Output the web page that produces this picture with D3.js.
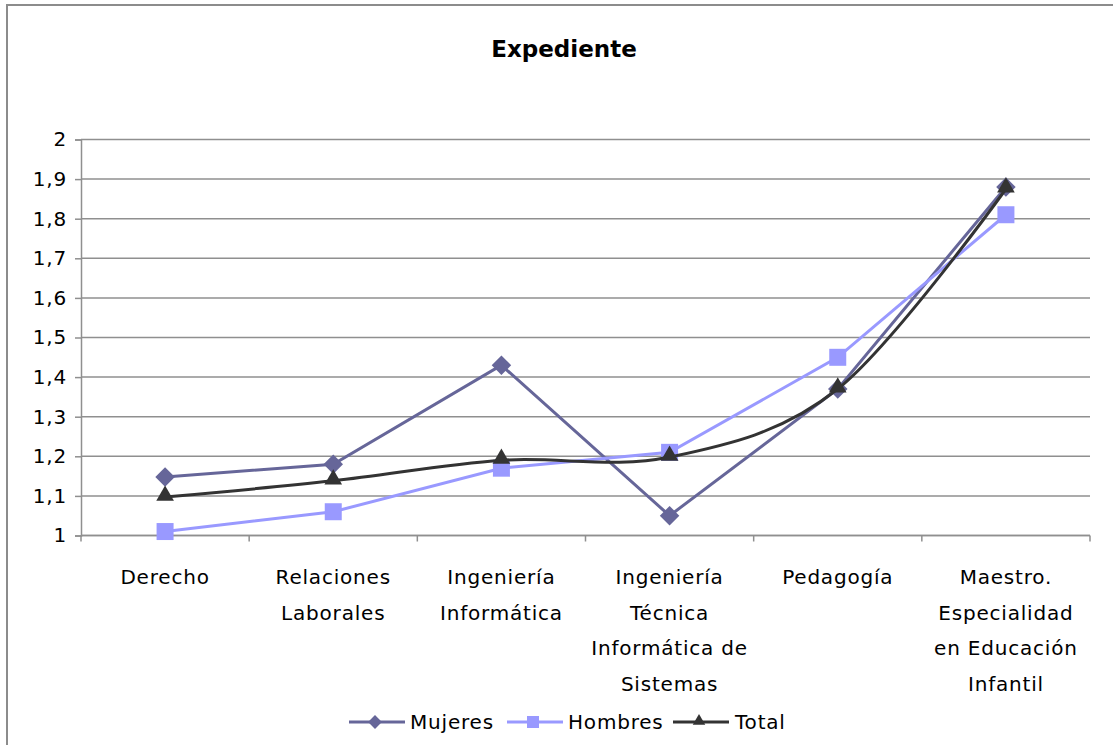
<!DOCTYPE html>
<html>
<head>
<meta charset="utf-8">
<script src="https://cdn.jsdelivr.net/npm/d3@7"></script>
<style>
  html, body { margin: 0; padding: 0; background: #fff; }
  svg { display: block; font-family: "DejaVu Sans", Verdana, sans-serif; }
</style>
</head>
<body>
<div id="chart"></div>
<script>
// Datos del gráfico
const categorias = [
    ['Derecho'],
    ['Relaciones', 'Laborales'],
    ['Ingeniería', 'Informática'],
    ['Ingeniería', 'Técnica', 'Informática de', 'Sistemas'],
    ['Pedagogía'],
    ['Maestro.', 'Especialidad', 'en Educación', 'Infantil']
];
const mujeres = [1.148, 1.18, 1.43, 1.05, 1.37, 1.88];
const hombres = [1.01, 1.06, 1.17, 1.21, 1.45, 1.81];
const total = [1.097, 1.138, 1.19, 1.198, 1.37, 1.875];
const yTicks = [1, 1.1, 1.2, 1.3, 1.4, 1.5, 1.6, 1.7, 1.8, 1.9, 2];

// Diamante = cuadrado girado 45 grados
const series = [
    { name: 'Mujeres', values: mujeres, color: '#666699', symbol: d3.symbolSquare, rotate: 45, size: 190, dy: 0, curve: d3.curveLinear },
    { name: 'Hombres', values: hombres, color: '#9999ff', symbol: d3.symbolSquare, rotate: 0, size: 289, dy: 0, curve: d3.curveLinear },
    { name: 'Total', values: total, color: '#333333', symbol: d3.symbolTriangle, rotate: 0, size: 135, dy: -1.5, curve: d3.curveCatmullRom.alpha(0) }
];

const width = 1113, height = 745;
const plot = { left: 81, right: 1090, top: 139.5, bottom: 535.5 };
const fontSize = 20, spacing = 0.8;

const svg = d3.select('#chart').append('svg')
    .attr('width', width)
    .attr('height', height);

// Marco del gráfico
svg.append('rect')
    .attr('x', 7).attr('y', 5)
    .attr('width', width + 20).attr('height', height + 20)
    .attr('fill', 'none')
    .attr('stroke', '#8c8c8c')
    .attr('stroke-width', 2);

// Título
svg.append('text')
    .attr('x', 564).attr('y', 57)
    .attr('text-anchor', 'middle')
    .attr('font-size', 23)
    .attr('font-weight', 'bold')
    .attr('fill', '#000')
    .text('Expediente');

const x = d3.scaleBand()
    .domain(d3.range(categorias.length))
    .range([plot.left, plot.right]);

const y = d3.scaleLinear()
    .domain([1, 2])
    .range([plot.bottom, plot.top]);

// Líneas de cuadrícula
svg.append('g')
    .selectAll('line')
    .data(yTicks)
    .join('line')
    .attr('x1', plot.left).attr('x2', plot.right)
    .attr('y1', d => y(d)).attr('y2', d => y(d))
    .attr('stroke', '#8f8f8f')
    .attr('stroke-width', 1.5);

// Eje Y
const yAxis = svg.append('g')
    .attr('transform', `translate(${plot.left},0)`)
    .call(d3.axisLeft(y)
        .tickValues(yTicks)
        .tickSize(6)
        .tickPadding(8)
        .tickFormat(d => d3.format('.1~f')(d).replace('.', ',')));
yAxis.select('.domain').attr('stroke', '#8f8f8f').attr('stroke-width', 1.5);
yAxis.selectAll('.tick line').attr('stroke', '#8f8f8f').attr('stroke-width', 1.5);
yAxis.selectAll('.tick text')
    .attr('font-size', fontSize)
    .attr('letter-spacing', spacing)
    .attr('font-family', '"DejaVu Sans", Verdana, sans-serif')
    .attr('fill', '#000');

// Eje X
const xEdges = d3.range(categorias.length + 1).map(i => plot.left + i * x.step());
const xAxis = svg.append('g');
xAxis.append('line')
    .attr('x1', plot.left).attr('x2', plot.right)
    .attr('y1', plot.bottom).attr('y2', plot.bottom)
    .attr('stroke', '#8f8f8f')
    .attr('stroke-width', 1.5);
xAxis.selectAll('line.tick')
    .data(xEdges)
    .join('line')
    .attr('class', 'tick')
    .attr('x1', d => d).attr('x2', d => d)
    .attr('y1', plot.bottom).attr('y2', plot.bottom + 6)
    .attr('stroke', '#8f8f8f')
    .attr('stroke-width', 1.5);

const labels = xAxis.selectAll('text.cat')
    .data(categorias)
    .join('text')
    .attr('class', 'cat')
    .attr('text-anchor', 'middle')
    .attr('font-size', fontSize)
    .attr('letter-spacing', spacing)
    .attr('fill', '#000');
labels.selectAll('tspan')
    .data((d, i) => d.map(t => ({ t, i })))
    .join('tspan')
    .attr('x', d => x(d.i) + x.bandwidth() / 2)
    .attr('y', (d, j) => 584 + j * 35.5)
    .text(d => d.t);

// Series
const cx = i => x(i) + x.bandwidth() / 2;

series.forEach(s => {
    const line = d3.line()
        .x((d, i) => cx(i))
        .y(d => y(d))
        .curve(s.curve);
    svg.append('path')
        .datum(s.values)
        .attr('d', line)
        .attr('fill', 'none')
        .attr('stroke', s.color)
        .attr('stroke-width', 3);
    svg.append('g')
        .selectAll('path')
        .data(s.values)
        .join('path')
        .attr('transform', (d, i) => `translate(${cx(i)},${y(d) + s.dy}) rotate(${s.rotate})`)
        .attr('d', d3.symbol().type(s.symbol).size(s.size))
        .attr('fill', s.color);
});

// Leyenda
const legendItems = [
    { s: series[0], x: 349, tx: 410 },
    { s: series[1], x: 507, tx: 568 },
    { s: series[2], x: 673, tx: 735 }
];
const legend = svg.append('g');
legendItems.forEach(item => {
    const g = legend.append('g');
    g.append('line')
        .attr('x1', item.x).attr('x2', item.x + 56)
        .attr('y1', 722).attr('y2', 722)
        .attr('stroke', item.s.color)
        .attr('stroke-width', 3);
    g.append('path')
        .attr('transform', `translate(${item.x + 26},${722 + item.s.dy * 0.6}) rotate(${item.s.rotate})`)
        .attr('d', d3.symbol().type(item.s.symbol).size(item.s.size * 0.5))
        .attr('fill', item.s.color);
    g.append('text')
        .attr('x', item.tx).attr('y', 729)
        .attr('font-size', fontSize)
        .attr('letter-spacing', spacing)
        .attr('fill', '#000')
        .text(item.s.name);
});
</script>
</body>
</html>
